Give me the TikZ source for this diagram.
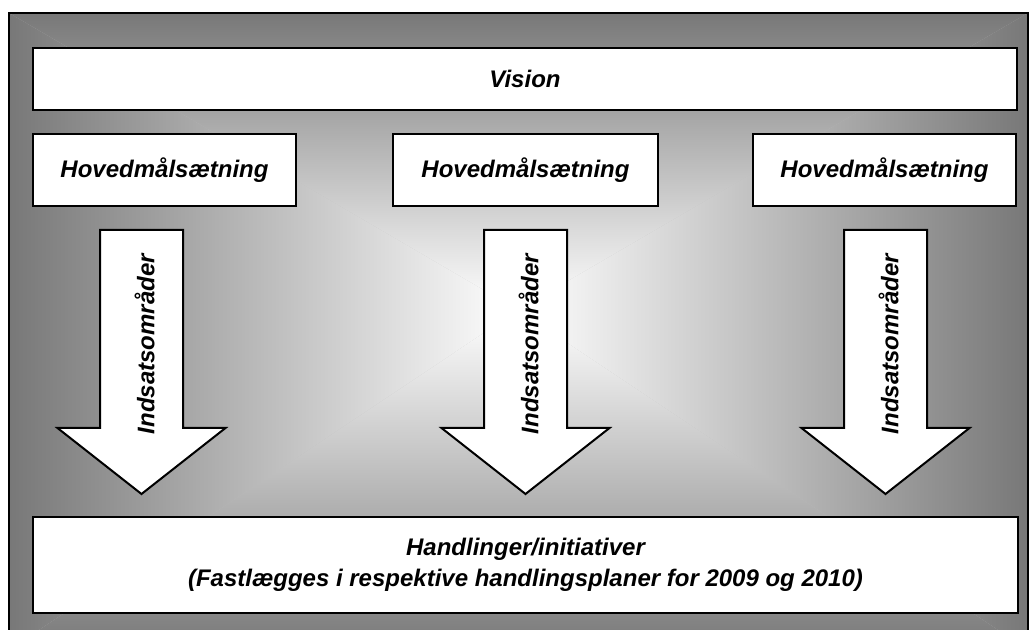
\documentclass[tikz,border=0pt]{standalone}
\usepackage{fontspec}
\setmainfont{Liberation Sans}
\definecolor{edgegray}{gray}{0.47}
\begin{document}
\begin{tikzpicture}[x=0.5pt,y=-0.5pt,
  box/.style={draw=black,line width=1pt,fill=white,inner sep=0pt,outer sep=0pt},
  lbl/.style={font=\fontsize{12}{15.5}\selectfont\bfseries\itshape,align=center},
  blockarrow/.style={draw=black,line width=1pt,fill=white,line join=miter}]
\useasboundingbox (0,0) rectangle (1029,630);
\begin{scope}
  \clip (0,0) rectangle (1029,630);
  \coordinate (c) at (518,310);
  \fill[gray!50] (9,13) rectangle (1028,650);
  \shade[top color=edgegray,bottom color=white] (9,13) -- (1028,13) -- (c) -- cycle;
  \shade[top color=white,bottom color=edgegray] (9,650) -- (1028,650) -- (c) -- cycle;
  \shade[left color=edgegray,right color=white] (9,13) -- (c) -- (9,650) -- cycle;
  \shade[left color=white,right color=edgegray] (1028,13) -- (c) -- (1028,650) -- cycle;
  \draw[line width=1pt] (9,13) rectangle (1028,650);
\end{scope}

\node[box,lbl,minimum width=492pt,minimum height=31pt] (vision) at (525,79) {Vision};
\node[box,lbl,minimum width=131.5pt,minimum height=36pt] (goal1) at (164.5,170) {Hovedmålsætning};
\node[box,lbl,minimum width=132.5pt,minimum height=36pt] (goal2) at (525.5,170) {Hovedmålsætning};
\node[box,lbl,minimum width=131.5pt,minimum height=36pt] (goal3) at (884.5,170) {Hovedmålsætning};

\foreach \cx/\nm in {141.5/ind1,525.5/ind2,885.5/ind3}{
  \draw[blockarrow] (\cx-41.5,230) -- (\cx+41.5,230) -- (\cx+41.5,428) -- (\cx+84,428)
     -- (\cx,494) -- (\cx-84,428) -- (\cx-41.5,428) -- cycle;
  \node[lbl,rotate=90] (\nm) at (\cx+3,344) {Indsatsområder};
}

\node[box,lbl,minimum width=492.5pt,minimum height=48pt] (actions) at (525.5,565)
  {Handlinger/initiativer\\(Fastlægges i respektive handlingsplaner for 2009 og 2010)};
\end{tikzpicture}
\end{document}
